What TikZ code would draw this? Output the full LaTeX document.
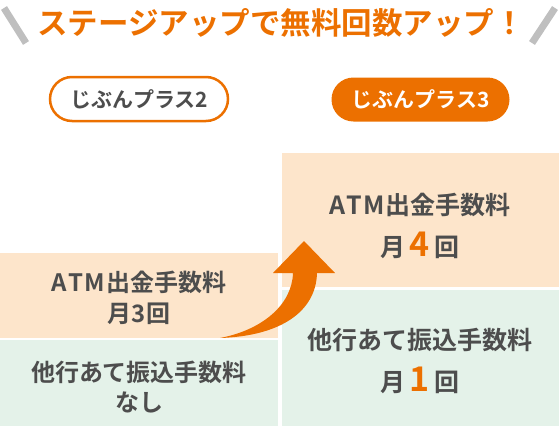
\documentclass[tikz,border=0pt]{standalone}
\usepackage{fontspec}
\setmainfont{Noto Sans CJK JP}[BoldFont={Noto Sans CJK JP Bold}]
\definecolor{upOrange}{HTML}{EC7000}
\definecolor{feePeach}{HTML}{FDE5CB}
\definecolor{feeGreen}{HTML}{E4F2E9}
\definecolor{textGray}{HTML}{4D4D4D}
\definecolor{slashGray}{HTML}{BFBFBF}
\newcommand{\atmword}{A\kern0.05em T\kern0.05em M\kern0.06em}

\tikzset{
  headline/.style={text=upOrange, font=\bfseries\fontsize{30.5}{30.5}\selectfont, inner sep=0pt},
  plan/.style={rounded corners=22pt, minimum width=178pt, minimum height=44pt,
    font=\bfseries\fontsize{21}{21}\selectfont, inner sep=0pt},
  feetext/.style={text=textGray, font=\bfseries\fontsize{24}{24}\selectfont, inner sep=0pt},
  feetextR/.style={feetext, font=\bfseries\fontsize{25}{25}\selectfont}
}

\begin{document}
\begin{tikzpicture}[x=1pt, y=-1pt]
  \useasboundingbox (0,0) rectangle (559,426);
  % title with slashes
  \draw[slashGray, line width=7pt] (4,8) -- (26,43);
  \draw[slashGray, line width=7pt] (555,8) -- (532,43);
  \node[headline] (title) at (281,23) {ステージアップで無料回数アップ！};
  % plans
  \node[plan, draw=upOrange, line width=2.5pt, fill=white, text=textGray] (plus2) at (139,99) {じぶんプラス2};
  \node[plan, fill=upOrange, text=white] (plus3) at (420.5,99.5) {じぶんプラス3};
  % fee boxes
  \fill[feePeach] (0,253) rectangle (278,338);
  \fill[feeGreen] (0,340) rectangle (278,426);
  \fill[feePeach] (282,153) rectangle (559,287);
  \fill[feeGreen] (282,290) rectangle (559,426);
  % arrow
  \fill[upOrange] (220,338) .. controls (280,336) and (316,312) .. (317,273)
    -- (335,273) -- (304,241) -- (273,273) -- (293,273)
    .. controls (292,305) and (262,330) .. cycle;
  % texts
  \node[feetext] (atm2) at (139,282) {\atmword 出金手数料};
  \node[feetext] (atm2n) at (139,314) {月3回};
  \node[feetext] (trf2) at (139,372) {他行あて振込手数料};
  \node[feetext] (trf2n) at (139,402) {なし};
  \node[feetextR] (atm3) at (420,205) {\atmword 出金手数料};
  \node[feetextR] (atm3n) at (420,245) {月\,\textcolor{upOrange}{\fontsize{34}{34}\selectfont 4}\,回};
  \node[feetextR] (trf3) at (420,340) {他行あて振込手数料};
  \node[feetextR] (trf3n) at (420,380) {月\,\textcolor{upOrange}{\fontsize{34}{34}\selectfont 1}\,回};
\end{tikzpicture}
\end{document}
